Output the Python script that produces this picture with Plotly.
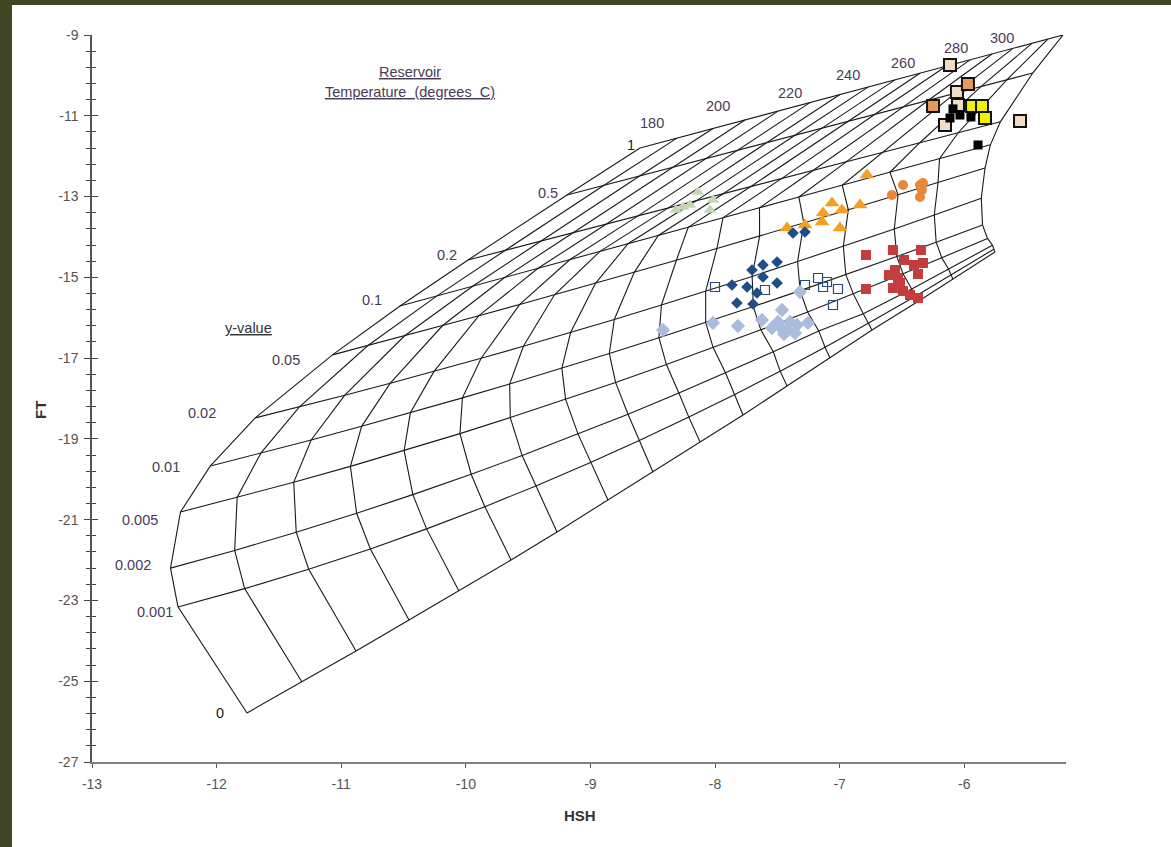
import plotly.graph_objects as go

# ================= data =================
T_LEVELS = [180, 190, 200, 210, 220, 230, 240, 250, 260, 270, 280, 290, 300, 310, 320, 330, 340]
T_LABELS = [180, 200, 220, 240, 260, 280, 300]
Y_LABELS = ["0", "0.001", "0.002", "0.005", "0.01", "0.02", "0.05", "0.1", "0.2", "0.5", "1"]

# grid nodes (HSH, FT) along each y-value line, one value per temperature
HSH_Y0 = [-11.756, -11.315, -10.881, -10.456, -10.055, -9.637, -9.268, -8.859, -8.498, -8.120, -7.775, -7.422, -7.077, -6.740, -6.371, -6.090, -5.753]
FT_Y0 = [-25.786, -25.018, -24.251, -23.484, -22.765, -21.998, -21.305, -20.513, -19.819, -19.077, -18.408, -17.690, -16.997, -16.303, -15.600, -15.050, -14.373]
HSH_Y0001 = [-12.31, -11.775, -11.261, -10.766, -10.315, -9.847, -9.438, -8.999, -8.608, -8.210, -7.845, -7.477, -7.117, -6.770, -6.391, -6.105, -5.763]
FT_Y0001 = [-23.16, -22.708, -22.228, -21.724, -21.228, -20.678, -20.166, -19.586, -19.041, -18.461, -17.905, -17.323, -16.730, -16.138, -15.468, -14.946, -14.304]
HSH_Y0002 = [-12.37, -11.855, -11.361, -10.876, -10.425, -9.957, -9.548, -9.099, -8.698, -8.290, -7.915, -7.532, -7.167, -6.810, -6.421, -6.125, -5.773]
FT_Y0002 = [-22.20, -21.762, -21.312, -20.842, -20.380, -19.875, -19.413, -18.882, -18.388, -17.865, -17.368, -16.843, -16.326, -15.900, -15.290, -14.800, -14.205]
HSH_Y0005 = [-12.29, -11.835, -11.381, -10.926, -10.495, -10.047, -9.643, -9.199, -8.798, -8.390, -8.015, -7.632, -7.257, -6.890, -6.491, -6.180, -5.813]
FT_Y0005 = [-20.81, -20.451, -20.075, -19.681, -19.291, -18.869, -18.473, -18.023, -17.602, -17.159, -16.740, -16.299, -15.856, -15.410, -14.912, -14.515, -14.036]
HSH_Y001 = [-12.05, -11.645, -11.241, -10.836, -10.445, -10.027, -9.648, -9.229, -8.848, -8.450, -8.075, -7.692, -7.317, -6.950, -6.541, -6.225, -5.853]
FT_Y001 = [-19.67, -19.353, -19.027, -18.689, -18.354, -17.985, -17.641, -17.250, -16.885, -16.495, -16.118, -15.724, -15.329, -14.934, -14.484, -14.130, -13.704]
HSH_Y002 = [-11.69, -11.335, -10.971, -10.606, -10.255, -9.877, -9.538, -9.159, -8.808, -8.430, -8.075, -7.702, -7.337, -6.970, -6.561, -6.240, -5.863]
FT_Y002 = [-18.48, -18.206, -17.918, -17.621, -17.328, -17.004, -16.707, -16.366, -16.043, -15.687, -15.345, -14.977, -14.609, -14.231, -13.801, -13.456, -13.043]
HSH_Y005 = [-11.07, -10.785, -10.491, -10.186, -9.895, -9.567, -9.288, -8.959, -8.648, -8.310, -7.985, -7.642, -7.287, -6.930, -6.531, -6.210, -5.833]
FT_Y005 = [-16.92, -16.688, -16.446, -16.193, -15.949, -15.671, -15.432, -15.148, -14.876, -14.578, -14.288, -13.979, -13.656, -13.327, -12.955, -12.653, -12.294]
HSH_Y01 = [-10.528, -10.231, -9.942, -9.685, -9.420, -9.164, -8.923, -8.698, -8.455, -8.215, -7.936, -7.643, -7.327, -6.979, -6.596, -6.198, -5.790]
FT_Y01 = [-15.71, -15.458, -15.215, -14.999, -14.775, -14.560, -14.357, -14.167, -13.963, -13.761, -13.526, -13.279, -13.013, -12.720, -12.398, -12.062, -11.719]
HSH_Y02 = [-9.982, -9.685, -9.396, -9.139, -8.874, -8.618, -8.377, -8.152, -7.935, -7.715, -7.466, -7.213, -6.947, -6.659, -6.356, -6.048, -5.710]
FT_Y02 = [-14.57, -14.334, -14.102, -13.896, -13.684, -13.479, -13.286, -13.106, -12.932, -12.756, -12.556, -12.354, -12.141, -11.910, -11.667, -11.420, -11.150]
HSH_Y05 = [-9.188, -8.891, -8.602, -8.345, -8.080, -7.824, -7.583, -7.358, -7.141, -6.941, -6.716, -6.498, -6.287, -6.074, -5.866, -5.658, -5.450]
FT_Y05 = [-12.96, -12.719, -12.485, -12.278, -12.064, -11.858, -11.663, -11.482, -11.306, -11.145, -10.964, -10.788, -10.617, -10.445, -10.278, -10.110, -9.942]
HSH_Y1 = [-8.602, -8.305, -8.016, -7.759, -7.494, -7.238, -6.997, -6.772, -6.555, -6.355, -6.146, -5.953, -5.777, -5.609, -5.456, -5.328, -5.207]
FT_Y1 = [-11.798, -11.553, -11.315, -11.103, -10.885, -10.674, -10.475, -10.290, -10.111, -9.946, -9.774, -9.615, -9.470, -9.332, -9.206, -9.100, -9.000]

# sample groups (HSH, FT)
S1_HSH = [-8.257, -8.137, -8.016, -8.040, -8.201, -8.313]
S1_FT = [-13.258, -12.887, -13.085, -13.333, -13.209, -13.333]
S2_HSH = [-6.780, -7.061, -6.981, -7.141, -7.278, -7.422, -6.997, -6.836, -7.133]
S2_FT = [-12.466, -13.159, -13.333, -13.630, -13.704, -13.778, -13.778, -13.209, -13.407]
S3_HSH = [-6.580, -6.491, -6.355, -6.339, -6.355, -6.331]
S3_FT = [-12.961, -12.714, -12.714, -12.838, -13.011, -12.664]
S4_HSH = [-7.502, -7.615, -7.703, -7.864, -7.743, -7.615, -7.502, -7.663, -7.824, -7.695, -7.374, -7.278]
S4_FT = [-14.620, -14.694, -14.818, -15.190, -15.239, -14.992, -15.140, -15.388, -15.635, -15.660, -13.902, -13.877]
S5_HSH = [-8.000, -7.599, -7.278, -7.173, -7.101, -7.133, -7.013, -7.053]
S5_FT = [-15.239, -15.313, -15.190, -15.016, -15.115, -15.239, -15.289, -15.685]
S6_HSH = [-8.417, -8.016, -7.816, -7.623, -7.462, -7.478, -7.422, -7.342, -7.254, -7.318, -7.494, -7.398, -7.446, -7.358, -7.543]
S6_FT = [-16.304, -16.130, -16.205, -16.056, -15.809, -16.230, -16.304, -16.180, -16.130, -15.363, -16.106, -16.106, -16.403, -16.378, -16.254]
S7_HSH = [-6.788, -6.572, -6.347, -6.483, -6.403, -6.331, -6.371, -6.604, -6.531, -6.572, -6.491, -6.435, -6.371, -6.788, -6.555, -6.515]
S7_FT = [-14.447, -14.323, -14.323, -14.571, -14.694, -14.645, -14.917, -14.942, -15.016, -15.264, -15.338, -15.437, -15.511, -15.289, -14.818, -15.140]
S8_HSH = [-6.114, -6.058, -6.050, -6.154, -5.552]
S8_FT = [-9.743, -10.411, -10.733, -11.228, -11.129]
S9_HSH = [-5.970, -6.250]
S9_FT = [-10.213, -10.758]
S10_HSH = [-5.937, -5.857, -5.833]
S10_FT = [-10.758, -10.758, -11.055]
S11_HSH = [-6.114, -6.034, -5.946, -5.889, -6.090]
S11_FT = [-11.055, -10.981, -11.030, -11.723, -10.830]

# ================= figure =================
GRID_HSH = [HSH_Y0, HSH_Y0001, HSH_Y0002, HSH_Y0005, HSH_Y001, HSH_Y002, HSH_Y005, HSH_Y01, HSH_Y02, HSH_Y05, HSH_Y1]
GRID_FT = [FT_Y0, FT_Y0001, FT_Y0002, FT_Y0005, FT_Y001, FT_Y002, FT_Y005, FT_Y01, FT_Y02, FT_Y05, FT_Y1]
nY, nT = len(GRID_HSH), len(T_LEVELS)

fig = go.Figure()
GRID_COLOR = "#1a1a1a"
for j in range(nY):
    fig.add_trace(go.Scatter(x=GRID_HSH[j], y=GRID_FT[j], mode="lines", line=dict(color=GRID_COLOR, width=1.1),
                             hoverinfo="skip", showlegend=False))
for i in range(nT):
    fig.add_trace(go.Scatter(x=[GRID_HSH[j][i] for j in range(nY)], y=[GRID_FT[j][i] for j in range(nY)],
                             mode="lines", line=dict(color=GRID_COLOR, width=1.1), hoverinfo="skip",
                             showlegend=False))

groups = [
    (S1_HSH, S1_FT, dict(symbol="triangle-up", color="#c6d6b2", size=11)),
    (S2_HSH, S2_FT, dict(symbol="triangle-up", color="#f5a020", size=13)),
    (S3_HSH, S3_FT, dict(symbol="circle", color="#e8883a", size=10)),
    (S4_HSH, S4_FT, dict(symbol="diamond", color="#1f4e86", size=9)),
    (S5_HSH, S5_FT, dict(symbol="square-open", color="#2a4a7a", size=9, line=dict(color="#2a4a7a", width=1.2))),
    (S6_HSH, S6_FT, dict(symbol="diamond", color="#a9bcdb", size=11)),
    (S7_HSH, S7_FT, dict(symbol="square", color="#c43c3c", size=10)),
    (S8_HSH, S8_FT, dict(symbol="square", color="#f2dcc4", size=12, line=dict(color="#111", width=2))),
    (S9_HSH, S9_FT, dict(symbol="square", color="#e59a5b", size=12, line=dict(color="#111", width=2))),
    (S10_HSH, S10_FT, dict(symbol="square", color="#f3f000", size=12, line=dict(color="#111", width=2))),
    (S11_HSH, S11_FT, dict(symbol="square", color="#000000", size=9)),
]
for xs, ys, mk in groups:
    fig.add_trace(go.Scatter(x=xs, y=ys, mode="markers", marker=mk, showlegend=False))

W, H = 1171, 847
ML, MR, MT, MB = 92, 105, 35, 85
PW, PH = W - ML - MR, H - MT - MB
XSCALE = 124.6   # pixels per HSH unit


def pxx(px):
    return (px - ML) / PW


def pxy(py):
    return 1 - (py - MT) / PH


LABEL_COLOR = "#4a3b55"
FONT = "Liberation Sans, Arial, sans-serif"


def note(x, y, text, color, size=14.5, angle=0):
    return dict(xref="paper", yref="paper", x=pxx(x), y=pxy(y), text=text, showarrow=False,
                xanchor="center", yanchor="middle", textangle=angle,
                font=dict(family=FONT, size=size, color=color))


ann = []
YLAB_PX = [(220, 713), (155, 612), (133, 565), (140, 520), (166, 467), (202, 413), (286, 360), (372, 300),
           (447, 255), (548, 193), (631, 145)]
for lab, (x, y) in zip(Y_LABELS, YLAB_PX):
    ann.append(note(x, y, lab, "#222" if lab in ("0", "1") else LABEL_COLOR))
TLAB_PX = [(652, 123), (718, 106), (790, 93), (848, 75), (903, 63), (956, 48), (1002, 38)]
for lab, (x, y) in zip(T_LABELS, TLAB_PX):
    ann.append(note(x, y, str(lab), LABEL_COLOR))
ann += [
    note(410, 72, "<u>Reservoir</u>", LABEL_COLOR),
    note(410, 92, "<u>Temperature  (degrees  C)</u>", LABEL_COLOR),
    note(248, 328, "<u>y-value</u>", "#333"),
    note(40, 410, "<b>FT</b>", "#333", 15, -90),
    note(580, 815, "<b>HSH</b>", "#333", 15),
]

XT = [-13, -12, -11, -10, -9, -8, -7, -6]
YT = list(range(-27, -8, 2))
fig.update_layout(
    width=W, height=H, margin=dict(l=ML, r=MR, t=MT, b=MB),
    paper_bgcolor="#3f4725", plot_bgcolor="white",
    font=dict(family=FONT, size=14, color="#444"),
    annotations=ann,
    shapes=[dict(type="rect", xref="paper", yref="paper", x0=(12 - ML) / PW, x1=(W + 5 - ML) / PW,
                 y0=-(MB + 5) / PH, y1=(H - 5 - MB) / PH, fillcolor="white", line=dict(width=0), layer="below")],
    xaxis=dict(range=[-13, -13 + PW / XSCALE], tickvals=XT, ticktext=[str(v) for v in XT],
               showgrid=False, zeroline=False, showline=True, linecolor="#7f7f7f", linewidth=2,
               ticks="outside", ticklen=4, tickcolor="#555", tickfont=dict(size=14, color="#555"),
               ticklabelstandoff=4),
    yaxis=dict(range=[-27, -9], tickvals=YT, ticktext=[str(v) for v in YT], showgrid=False, zeroline=False,
               showline=True, linecolor="#555", linewidth=1.5, ticks="outside", ticklen=6, tickcolor="#444",
               tickfont=dict(size=14, color="#555"), ticklabelstandoff=3,
               minor=dict(tick0=-27, dtick=0.4, ticks="outside", ticklen=4, tickcolor="#444")),
    yaxis2=dict(range=[-27, -9], overlaying="y", side="left", tickvals=YT,
                showticklabels=False, showgrid=False, zeroline=False, ticks="inside", ticklen=6,
                tickcolor="#444", minor=dict(tick0=-27, dtick=0.4, ticks="inside", ticklen=4, tickcolor="#444")),
)
fig.add_trace(go.Scatter(x=[None], y=[None], yaxis="y2", showlegend=False))
fig.write_html("out.html", config={"displayModeBar": False},
               post_script="document.body.style.margin='0';document.body.style.overflow='hidden';"
                           "document.body.style.background='#3f4725';")
